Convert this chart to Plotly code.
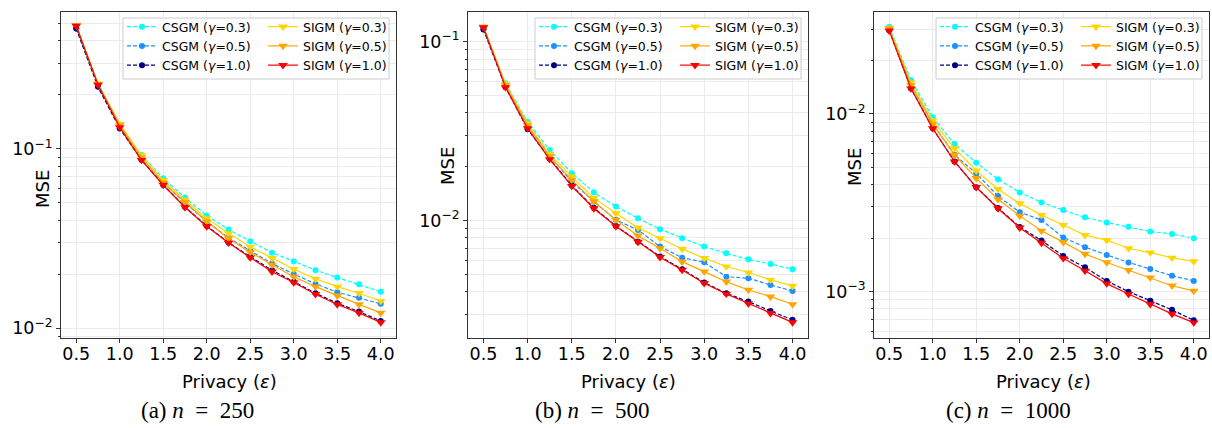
import plotly.graph_objects as go

# ---------------- data ----------------
eps = [0.5, 0.75, 1.0, 1.25, 1.5, 1.75, 2.0, 2.25, 2.5, 2.75, 3.0, 3.25, 3.5, 3.75, 4.0]
eps_ticks = [0.5, 1.0, 1.5, 2.0, 2.5, 3.0, 3.5, 4.0]
eps_ticktext = ["0.5", "1.0", "1.5", "2.0", "2.5", "3.0", "3.5", "4.0"]

series_names = ["CSGM (<i>γ</i>=0.3)", "CSGM (<i>γ</i>=0.5)", "CSGM (<i>γ</i>=1.0)",
                "SIGM (<i>γ</i>=0.3)", "SIGM (<i>γ</i>=0.5)", "SIGM (<i>γ</i>=1.0)"]

# n = 250
a_csgm03 = [0.48, 0.228, 0.136, 0.0926, 0.0686, 0.0536, 0.0425, 0.0356, 0.0306, 0.0264, 0.0237, 0.0211, 0.0192, 0.0176, 0.016]
a_csgm05 = [0.47, 0.224, 0.133, 0.089, 0.065, 0.050, 0.0395, 0.032, 0.0271, 0.023, 0.0201, 0.0177, 0.0159, 0.0148, 0.0137]
a_csgm10 = [0.47, 0.222, 0.130, 0.087, 0.063, 0.0475, 0.0373, 0.0301, 0.0251, 0.0211, 0.0182, 0.0157, 0.0138, 0.0124, 0.011]
a_sigm03 = [0.49, 0.232, 0.138, 0.092, 0.067, 0.052, 0.041, 0.0339, 0.0285, 0.0246, 0.0214, 0.0189, 0.0171, 0.0157, 0.0142]
a_sigm05 = [0.49, 0.230, 0.136, 0.0895, 0.065, 0.0505, 0.0394, 0.0317, 0.0266, 0.0226, 0.0194, 0.0171, 0.0152, 0.0136, 0.0122]
a_sigm10 = [0.485, 0.228, 0.132, 0.0868, 0.063, 0.0473, 0.037, 0.030, 0.0248, 0.0207, 0.018, 0.0155, 0.0136, 0.0122, 0.0108]

# n = 500
b_csgm03 = [0.119, 0.0585, 0.0357, 0.0248, 0.0184, 0.0144, 0.012, 0.0103, 0.00895, 0.00797, 0.00716, 0.00657, 0.00608, 0.00573, 0.00535]
b_csgm05 = [0.118, 0.057, 0.034, 0.023, 0.0165, 0.0128, 0.0101, 0.00887, 0.00716, 0.00621, 0.00585, 0.00486, 0.00477, 0.00437, 0.00405]
b_csgm10 = [0.117, 0.0556, 0.0324, 0.0222, 0.0157, 0.0118, 0.00934, 0.00763, 0.0063, 0.00535, 0.00451, 0.00393, 0.00353, 0.00313, 0.00279]
b_sigm03 = [0.121, 0.058, 0.035, 0.0236, 0.0176, 0.0134, 0.011, 0.00914, 0.00797, 0.00695, 0.00617, 0.00554, 0.00513, 0.00467, 0.00432]
b_sigm05 = [0.121, 0.057, 0.034, 0.0228, 0.0169, 0.0128, 0.0101, 0.00824, 0.00701, 0.0059, 0.00519, 0.00456, 0.0041, 0.00376, 0.00341]
b_sigm10 = [0.12, 0.0556, 0.0328, 0.022, 0.0156, 0.0117, 0.0093, 0.0076, 0.00625, 0.0053, 0.00447, 0.0039, 0.00344, 0.00304, 0.0027]

# n = 1000
c_csgm03 = [0.031, 0.0155, 0.00958, 0.00677, 0.00532, 0.00429, 0.00362, 0.00318, 0.00288, 0.00262, 0.00245, 0.00232, 0.00218, 0.00211, 0.002]
c_csgm05 = [0.030, 0.0145, 0.0088, 0.0059, 0.00463, 0.00345, 0.0028, 0.00253, 0.00202, 0.00178, 0.00161, 0.00146, 0.00134, 0.00123, 0.00115]
c_csgm10 = [0.0295, 0.0139, 0.0083, 0.0054, 0.00387, 0.00296, 0.00231, 0.00194, 0.00159, 0.00137, 0.00115, 0.001, 0.00089, 0.00079, 0.00069]
c_sigm03 = [0.0305, 0.015, 0.00917, 0.00641, 0.0048, 0.00377, 0.00314, 0.0027, 0.00237, 0.00208, 0.00195, 0.00175, 0.00166, 0.00155, 0.00148]
c_sigm05 = [0.0303, 0.0145, 0.0088, 0.00588, 0.00435, 0.00331, 0.00267, 0.0022, 0.0019, 0.00163, 0.00146, 0.00132, 0.0012, 0.00108, 0.00101]
c_sigm10 = [0.0294, 0.0139, 0.0083, 0.0054, 0.00387, 0.00294, 0.00229, 0.00188, 0.00154, 0.00131, 0.00111, 0.00097, 0.00085, 0.00075, 0.00067]

panels = [
    [a_csgm03, a_csgm05, a_csgm10, a_sigm03, a_sigm05, a_sigm10],
    [b_csgm03, b_csgm05, b_csgm10, b_sigm03, b_sigm05, b_sigm10],
    [c_csgm03, c_csgm05, c_csgm10, c_sigm03, c_sigm05, c_sigm10],
]
captions = ["(a) <i>n</i>\u2002=\u2002250", "(b) <i>n</i>\u2002=\u2002500",
            "(c) <i>n</i>\u2002=\u20021000"]
y_major = [[0.1, 0.01], [0.1, 0.01], [0.01, 0.001]]
y_major_text = [["10<sup>−1</sup>", "10<sup>−2</sup>"],
                ["10<sup>−1</sup>", "10<sup>−2</sup>"],
                ["10<sup>−2</sup>", "10<sup>−3</sup>"]]

# ---------------- style / layout ----------------
W, H = 1212, 428
colors = ["cyan", "dodgerblue", "navy", "gold", "orange", "red"]
plot_left = [61, 468, 874]
plot_right = [396, 808, 1209]
plot_top, plot_bottom = 12.3, 337.7
y_ranges = [[-2.052, -0.238], [-2.654, -0.836], [-3.259, -1.428]]
x_range = [0.325, 4.175]
mse_pos = [(42, 189), (447, 166), (854, 167)]
xtitle_x = [229, 628, 1043]
caption_x = [197, 592, 1008]
grid_col = "#ebebeb"
axis_col = "#333333"
FONT = "DejaVu Sans"

minor_vals = [m * 10.0 ** e for e in range(-5, 1) for m in range(2, 10)]


def px(x):
    return x / W


def py(y):
    return 1 - y / H


fig = go.Figure()
layout = dict(
    width=W, height=H,
    margin=dict(l=0, r=0, t=0, b=0),
    paper_bgcolor="white", plot_bgcolor="white",
    showlegend=True,
    font=dict(family=FONT, color="black"),
)
shapes = []
annotations = []

for p in range(3):
    ax_suffix = "" if p == 0 else str(p + 1)
    xref = "x" + ax_suffix
    yref = "y" + ax_suffix
    leg_c = "legend" if p == 0 else "legend" + str(2 * p + 1)
    leg_s = "legend" + str(2 * p + 2)
    for i, vals in enumerate(panels[p]):
        is_csgm = i < 3
        fig.add_trace(go.Scatter(
            x=eps, y=vals, mode="lines+markers",
            name=series_names[i],
            line=dict(color=colors[i], width=1.2, dash="4px,2px" if is_csgm else "solid"),
            marker=dict(color=colors[i], size=6 if is_csgm else 8.5,
                        symbol="circle" if is_csgm else "triangle-down", line=dict(width=0)),
            xaxis=xref, yaxis=yref,
            legend=leg_c if is_csgm else leg_s,
        ))

    common_ax = dict(showline=True, mirror=True, linecolor=axis_col, linewidth=1,
                     ticks="outside", ticklen=4, tickcolor=axis_col, tickwidth=1,
                     showgrid=True, gridcolor=grid_col, gridwidth=0.8, zeroline=False,
                     tickfont=dict(family=FONT, size=17.5, color="black"),
                     automargin=False)
    layout["xaxis" + ax_suffix] = dict(
        common_ax,
        domain=[px(plot_left[p]), px(plot_right[p])],
        anchor=yref, range=x_range,
        tickmode="array", tickvals=eps_ticks, ticktext=eps_ticktext,
        ticklabelstandoff=-4,
    )
    layout["yaxis" + ax_suffix] = dict(
        common_ax,
        domain=[py(plot_bottom), py(plot_top)],
        anchor=xref, type="log", range=y_ranges[p],
        tickmode="array", tickvals=y_major[p], ticktext=y_major_text[p],
        minor=dict(tickmode="array", tickvals=minor_vals, ticks="outside", ticklen=2.5,
                   tickcolor=axis_col, showgrid=True, gridcolor=grid_col, gridwidth=0.8),
    )

    # legend frame (two-column legend built from two legends)
    bl = plot_right[p] - 273
    br = plot_right[p] - 7
    shapes.append(dict(type="rect", xref="paper", yref="paper",
                       x0=px(bl), x1=px(br), y0=py(79), y1=py(18),
                       fillcolor="rgba(255,255,255,0.8)", line=dict(color="#cccccc", width=1),
                       layer="above"))
    leg_common = dict(bgcolor="rgba(0,0,0,0)", borderwidth=0, orientation="v",
                      xanchor="left", yanchor="top", itemwidth=30,
                      font=dict(family=FONT, size=12.5, color="black"),
                      tracegroupgap=0, itemclick=False, itemdoubleclick=False)
    layout[leg_c] = dict(leg_common, x=px(bl - 1), y=py(12))
    layout[leg_s] = dict(leg_common, x=px(bl + 140), y=py(12))

    annotations.append(dict(text="MSE", x=px(mse_pos[p][0]), y=py(mse_pos[p][1]),
                            xref="paper", yref="paper", showarrow=False, textangle=-90,
                            font=dict(family=FONT, size=18, color="black"),
                            xanchor="center", yanchor="middle"))
    annotations.append(dict(text="Privacy (<i>ε</i>)", x=px(xtitle_x[p]), y=py(381),
                            xref="paper", yref="paper", showarrow=False,
                            font=dict(family=FONT, size=18, color="black"),
                            xanchor="center", yanchor="middle"))
    annotations.append(dict(text=captions[p], x=px(caption_x[p]), y=py(410),
                            xref="paper", yref="paper", showarrow=False,
                            font=dict(family="Liberation Serif", size=23, color="black"),
                            xanchor="center", yanchor="middle"))

layout["shapes"] = shapes
layout["annotations"] = annotations
fig.update_layout(**layout)
fig.write_html("out.html", config={"displayModeBar": False},
               post_script="document.body.style.margin='0px';")
